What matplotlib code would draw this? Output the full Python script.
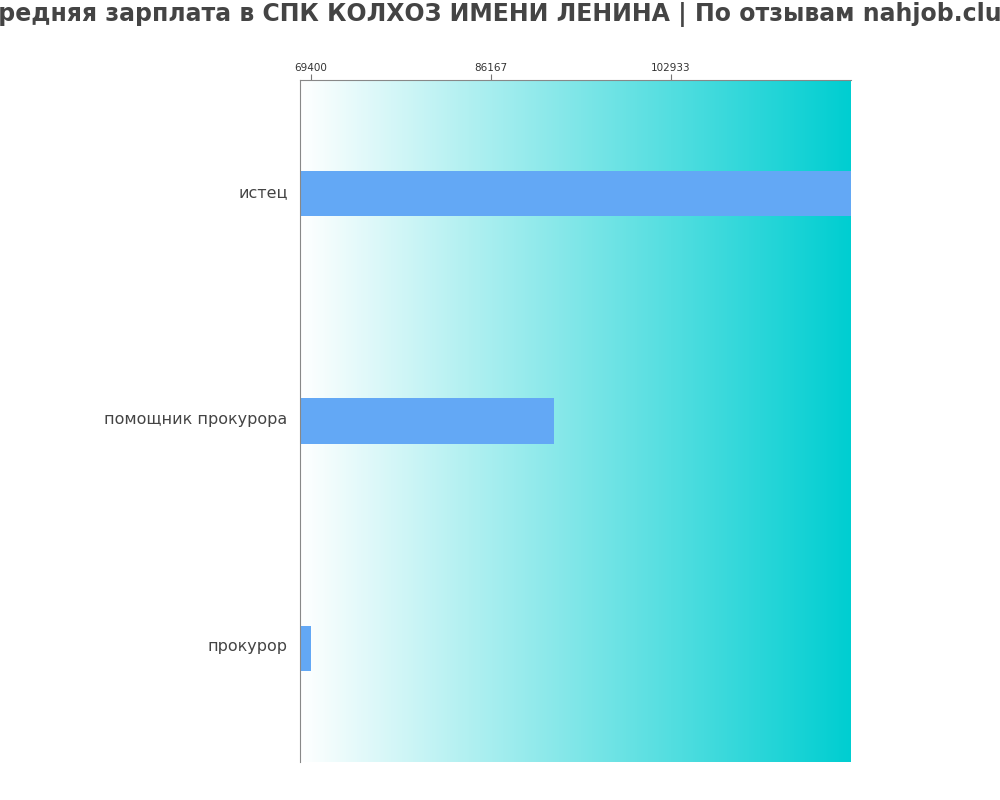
import matplotlib
matplotlib.use("Agg")
import matplotlib.pyplot as plt
import matplotlib.transforms as mtransforms
import numpy as np
from matplotlib.colors import LinearSegmentedColormap

plt.rcParams["font.family"] = ["DejaVu Sans"]

# salary data
categories = ["истец", "помощник прокурора", "прокурор"]
salaries = [119700, 92000, 69400]
tick_values = [69400, 86167, 102933]
title = "Средняя зарплата в СПК КОЛХОЗ ИМЕНИ ЛЕНИНА | По отзывам nahjob.club"

fig = plt.figure(figsize=(10, 8), dpi=100)
ax = fig.add_axes([0.3, 0.0475, 0.551, 0.8525])

x_min = min(salaries) * 0.985
x_max = max(salaries)

# gradient background
cmap = LinearSegmentedColormap.from_list("bg", ["#ffffff", "#00ced1"])
grad = np.linspace(0, 1, 256).reshape(1, -1)
ax.imshow(grad, cmap=cmap, aspect="auto", extent=[x_min, x_max, 2.5, -0.5],
          zorder=0)

y = np.arange(len(categories))
ax.barh(y, salaries, height=0.2, color="#63a8f5", zorder=2)

ax.set_xlim(x_min, x_max)
ax.set_ylim(2.5, -0.5)
ax.set_yticks(y)
ax.set_yticklabels(categories, fontsize=11.5, color="#444444")
ax.tick_params(axis="y", length=0, pad=9)
shift = mtransforms.ScaledTranslation(0, 3 / 100, fig.dpi_scale_trans)
for lbl in ax.get_yticklabels():
    lbl.set_transform(lbl.get_transform() + shift)

ax.xaxis.tick_top()
ax.set_xticks(tick_values)
ax.set_xticklabels([str(v) for v in tick_values], fontsize=7.5, color="#333333")
ax.tick_params(axis="x", colors="#777777", labelcolor="#333333", length=4,
               pad=1)

for side in ["right", "bottom"]:
    ax.spines[side].set_visible(False)
for side in ["left", "top"]:
    ax.spines[side].set_color("#888888")

fig.suptitle(title, fontsize=17, fontweight="bold", color="#444444",
             x=0.5, y=0.997, va="top")

fig.savefig("out.png", dpi=100)
